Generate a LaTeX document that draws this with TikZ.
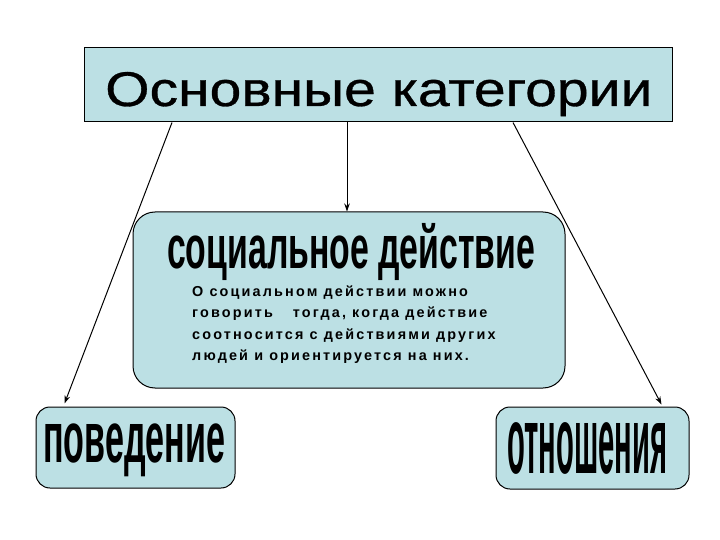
\documentclass[tikz,border=0pt]{standalone}
\usepackage{fontspec}
\setmainfont{Liberation Sans}
\newfontfamily\bodyfont[LetterSpace=15,UprightFont=* Bold]{Liberation Sans}
\newfontfamily\headfont[FakeBold=0.6]{Liberation Sans}
\usetikzlibrary{arrows.meta}
\definecolor{boxfill}{HTML}{BCE0E4}
\begin{document}
\begin{tikzpicture}[x=1pt,y=-1pt,
  box/.style={draw=black,line width=1pt,fill=boxfill,inner sep=0pt},
  arr/.style={draw=black,line width=1pt,-{Stealth[length=8pt,width=5.5pt]}},
  lbl/.style={inner sep=0pt,anchor=base west},
  body/.style={inner sep=0pt,anchor=base west,font=\bodyfont\fontsize{14.4}{16}\selectfont}]
\useasboundingbox (0,0) rectangle (720,540);
% boxes
\node[box,minimum width=588pt,minimum height=74pt] (top) at (378,85) {};
\node[box,rounded corners=22pt,minimum width=432pt,minimum height=176pt] (mid) at (349,300) {};
\node[box,rounded corners=14pt,minimum width=199pt,minimum height=81pt] (bl) at (135.5,447.5) {};
\node[box,rounded corners=14pt,minimum width=193pt,minimum height=82pt] (br) at (592.5,448) {};
% titles
\node[lbl] (t1) at (105,106) {\resizebox{547pt}{34pt}{\headfont Основные категории}};
\node[lbl] (t2) at (167,268) {\resizebox{368pt}{32pt}{\bfseries\vphantom{х}\smash{социальное действие}}};
\node[lbl] (t3) at (43,462) {\resizebox{182pt}{38pt}{\bfseries\vphantom{х}\smash{поведение}}};
\node[lbl] (t4) at (507,473) {\resizebox{160pt}{50pt}{\bfseries\vphantom{х}\smash{отношения}}};
% body text
\node[body] (b1) at (192,296) {О социальном действии можно};
\node[body] (b2) at (192,317.5) {говорить\hspace{20pt}тогда, когда действие};
\node[body] (b3) at (192,339) {соотносится с действиями других};
\node[body] (b4) at (192,360.5) {людей и ориентируется на них.};
% arrows
\draw[arr] ([xshift=-206pt]top.south) -- ([xshift=29pt,yshift=3pt]bl.north west);
\draw[arr] ([xshift=-31pt]top.south) -- ([xshift=-31pt]top.south |- mid.north);
\draw[arr] ([xshift=135pt]top.south) -- ([xshift=-28pt,yshift=2pt]br.north east);
\end{tikzpicture}
\end{document}
